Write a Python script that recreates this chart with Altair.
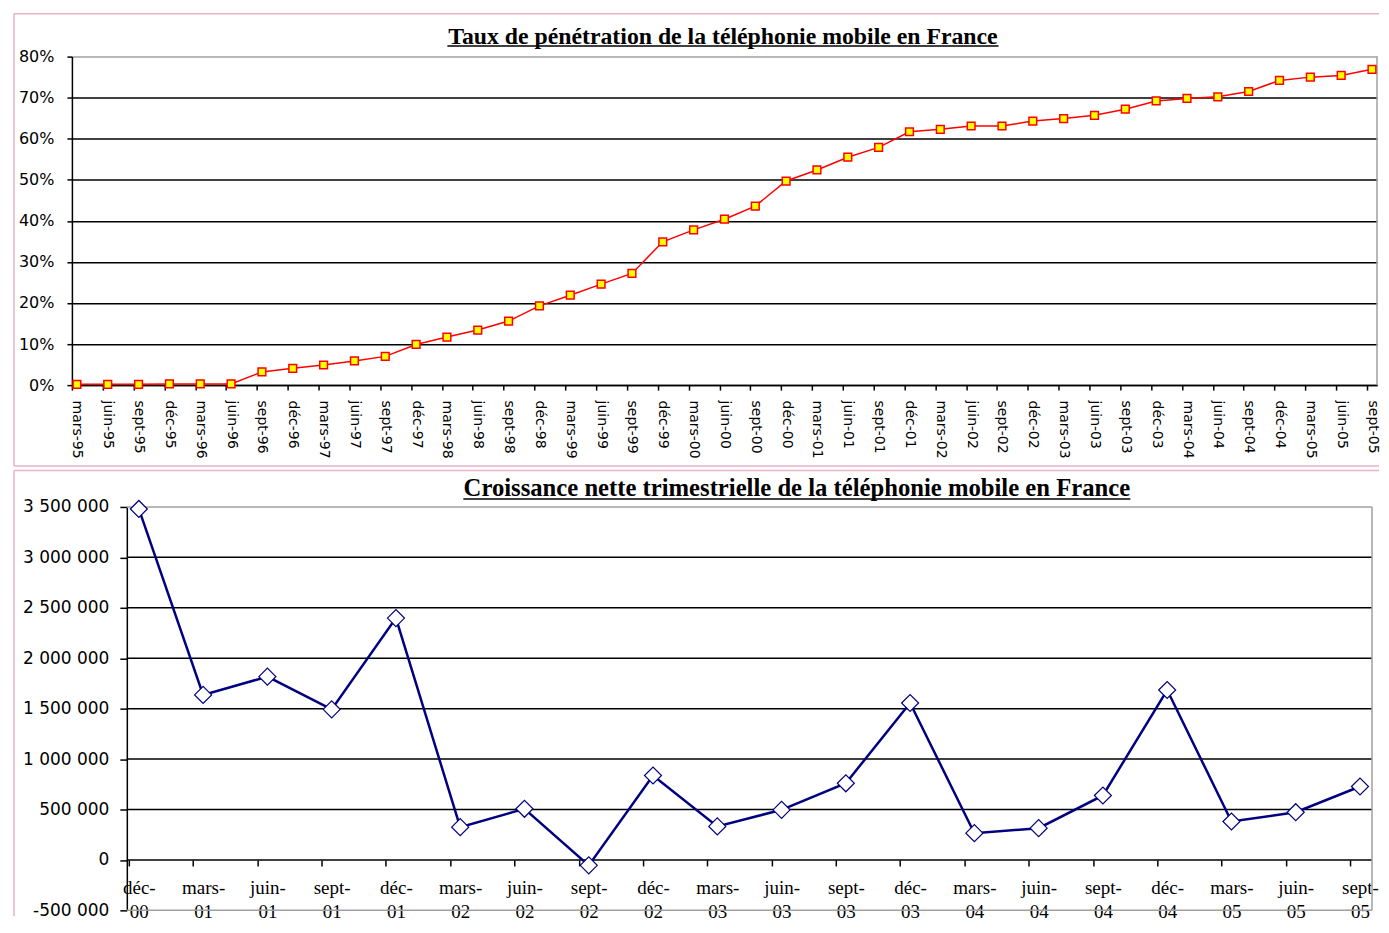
import altair as alt
import pandas as pd

# ---------------- data ----------------
top_title = "Taux de pénétration de la téléphonie mobile en France"
top_quarters = [
    "mars-95", "juin-95", "sept-95", "déc-95",
    "mars-96", "juin-96", "sept-96", "déc-96",
    "mars-97", "juin-97", "sept-97", "déc-97",
    "mars-98", "juin-98", "sept-98", "déc-98",
    "mars-99", "juin-99", "sept-99", "déc-99",
    "mars-00", "juin-00", "sept-00", "déc-00",
    "mars-01", "juin-01", "sept-01", "déc-01",
    "mars-02", "juin-02", "sept-02", "déc-02",
    "mars-03", "juin-03", "sept-03", "déc-03",
    "mars-04", "juin-04", "sept-04", "déc-04",
    "mars-05", "juin-05", "sept-05",
]
top_values = [
    0.2, 0.2, 0.2, 0.3, 0.3, 0.3, 3.2, 4.1, 4.9, 5.9,
    7.0, 9.9, 11.7, 13.4, 15.6, 19.3, 21.9, 24.6, 27.2, 34.9,
    37.8, 40.4, 43.6, 49.7, 52.4, 55.5, 57.9, 61.7, 62.3, 63.1,
    63.1, 64.3, 64.9, 65.7, 67.2, 69.2, 69.8, 70.2, 71.5, 74.2,
    75.0, 75.4, 76.9,
]
top_ticks = [0, 10, 20, 30, 40, 50, 60, 70, 80]

bottom_title = "Croissance nette trimestrielle de la téléphonie mobile en France"
bottom_quarters = [
    "déc-00", "mars-01", "juin-01", "sept-01", "déc-01",
    "mars-02", "juin-02", "sept-02", "déc-02",
    "mars-03", "juin-03", "sept-03", "déc-03",
    "mars-04", "juin-04", "sept-04", "déc-04",
    "mars-05", "juin-05", "sept-05",
]
bottom_values = [
    3480000, 1636000, 1817000, 1493000, 2398000,
    325000, 507000, -54000, 837000,
    332000, 497000, 760000, 1556000,
    265000, 315000, 639000, 1685000,
    381000, 473000, 728000,
]
bottom_ticks = [-500000, 0, 500000, 1000000, 1500000, 2000000, 2500000, 3000000, 3500000]
bottom_inner_grid = [0, 500000, 1000000, 1500000, 2000000, 2500000, 3000000]
bottom_outer_grid = [-500000, 3500000]

PINK = "#e8b2c9"
GRAY = "#a0a0a0"
one = pd.DataFrame({"k": [0]})


def rule(x, x2, y, y2, color, width):
    return alt.Chart(one).mark_rule(color=color, strokeWidth=width).encode(
        x=alt.value(x), x2=alt.value(x2), y=alt.value(y), y2=alt.value(y2)
    )


def title_text(text, x, y, size):
    return alt.Chart(pd.DataFrame({"t": [text]})).mark_text(
        font="Liberation Serif", fontSize=size, fontWeight="bold",
        align="center", baseline="alphabetic", color="black",
    ).encode(x=alt.value(x), y=alt.value(y), text="t:N")


# ---------------- top chart ----------------
TW, TH = 1307, 329
top_df = pd.DataFrame({"trimestre": top_quarters, "taux": top_values})

tx = alt.X(
    "trimestre:N", sort=top_quarters,
    scale=alt.Scale(type="point", padding=0.162),
    axis=alt.Axis(
        title=None, labelAngle=90, labelFont="DejaVu Sans", labelFontSize=14,
        labelColor="black", tickColor="black", tickSize=5, tickWidth=1.5,
        domainColor="black", domainWidth=1.5, tickOffset=-5, labelOffset=5,
        labelPadding=10, grid=False, labelOverlap=False,
    ),
)
ty = alt.Y(
    "taux:Q",
    scale=alt.Scale(domain=[0, 80], nice=False),
    axis=alt.Axis(
        title=None, values=top_ticks, labelExpr="datum.value + '%'",
        labelFont="DejaVu Sans", labelFontSize=16, labelColor="black",
        tickColor="black", tickSize=5, tickWidth=1.5,
        domainColor="black", domainWidth=1.5, labelPadding=13,
        grid=True, gridWidth=1.5,
        gridColor={"condition": {"test": "datum.value >= 80", "value": GRAY}, "value": "black"},
    ),
)
top_base = alt.Chart(top_df).encode(x=tx, y=ty)
top_line = top_base.mark_line(color="#ff0000", strokeWidth=1.5)
top_pts = top_base.mark_point(
    shape="square", filled=True, fill="#ffff00", stroke="#ff0000",
    strokeWidth=1.5, size=60, opacity=1,
)
top_chart = alt.layer(
    rule(-58, 1309, -43, -43, PINK, 1.5),
    rule(-58, -58, -43, 410, PINK, 1.5),
    rule(-58, 1309, 410, 410, PINK, 1.5),
    rule(TW, TW, 0, TH, GRAY, 1.5),
    title_text(top_title, 652, -13, 23.8),
    rule(376, 928, -10.5, -10.5, "black", 1.5),
    top_line,
    top_pts,
).properties(width=TW, height=TH)

# ---------------- bottom chart ----------------
# plot origin shared with the top chart; the bottom plot itself starts 55 px further right
BW, BH = 1302, 404
BX0 = 55
bottom_df = pd.DataFrame({"trimestre": bottom_quarters, "croissance": bottom_values})

bx = alt.X(
    "trimestre:N", sort=bottom_quarters,
    scale=alt.Scale(type="point", padding=0.187, range=[BX0, BW]),
    axis=alt.Axis(
        title=None, labelAngle=0, labelFont="Liberation Serif", labelFontSize=19,
        labelColor="black", tickColor="black", tickSize=6, tickWidth=1.5,
        domain=False, tickOffset=-10, labelOffset=10,
        labelPadding=13, grid=False, labelOverlap=False, offset=-50.5,
        labelExpr="[split(datum.label, '-')[0] + '-', split(datum.label, '-')[1]]",
        labelLineHeight=24,
    ),
)
by = alt.Y(
    "croissance:Q",
    scale=alt.Scale(domain=[-500000, 3500000], nice=False, zero=False),
    axis=alt.Axis(
        title=None, values=bottom_ticks, offset=-BX0,
        labelExpr="(datum.value < 0 ? '-' : '') + replace(replace(format(abs(datum.value), ','), ',', ' '), ',', ' ')",
        labelFont="DejaVu Sans", labelFontSize=17, labelColor="black",
        tickColor="black", tickSize=7, tickWidth=1.5,
        domainColor="black", domainWidth=1.5, labelPadding=11,
        grid=False,
    ),
)
grid_inner = alt.Chart(pd.DataFrame({"croissance": bottom_inner_grid})).mark_rule(
    color="black", strokeWidth=1.5
).encode(y=by, x=alt.value(BX0), x2=alt.value(BW))
grid_outer = alt.Chart(pd.DataFrame({"croissance": bottom_outer_grid})).mark_rule(
    color=GRAY, strokeWidth=1.5
).encode(y=by, x=alt.value(BX0), x2=alt.value(BW))

bot_base = alt.Chart(bottom_df).encode(x=bx, y=by)
bot_line = bot_base.mark_line(color="#000080", strokeWidth=2.5)
bot_pts = bot_base.mark_point(
    shape="diamond", filled=True, fill="white", stroke="#000080",
    strokeWidth=1.2, size=290, opacity=1,
)
bottom_chart = alt.layer(
    rule(-58, 1309, -36.5, -36.5, PINK, 1.5),
    rule(-58, -58, -36.5, 410, PINK, 1.5),
    grid_outer,
    grid_inner,
    rule(BW, BW, 0, BH, GRAY, 1.5),
    title_text(bottom_title, 726, -11, 24.7),
    rule(392, 1060, -8, -8, "black", 1.5),
    bot_line,
    bot_pts,
).properties(width=BW, height=BH)

chart = alt.vconcat(top_chart, bottom_chart, spacing=1, bounds="full").properties(
    padding={"left": 4, "top": 3, "right": 0, "bottom": 0},
    background="white",
).configure_view(stroke="transparent")

chart.save("out.html", embed_options={"renderer": "svg", "actions": False})
